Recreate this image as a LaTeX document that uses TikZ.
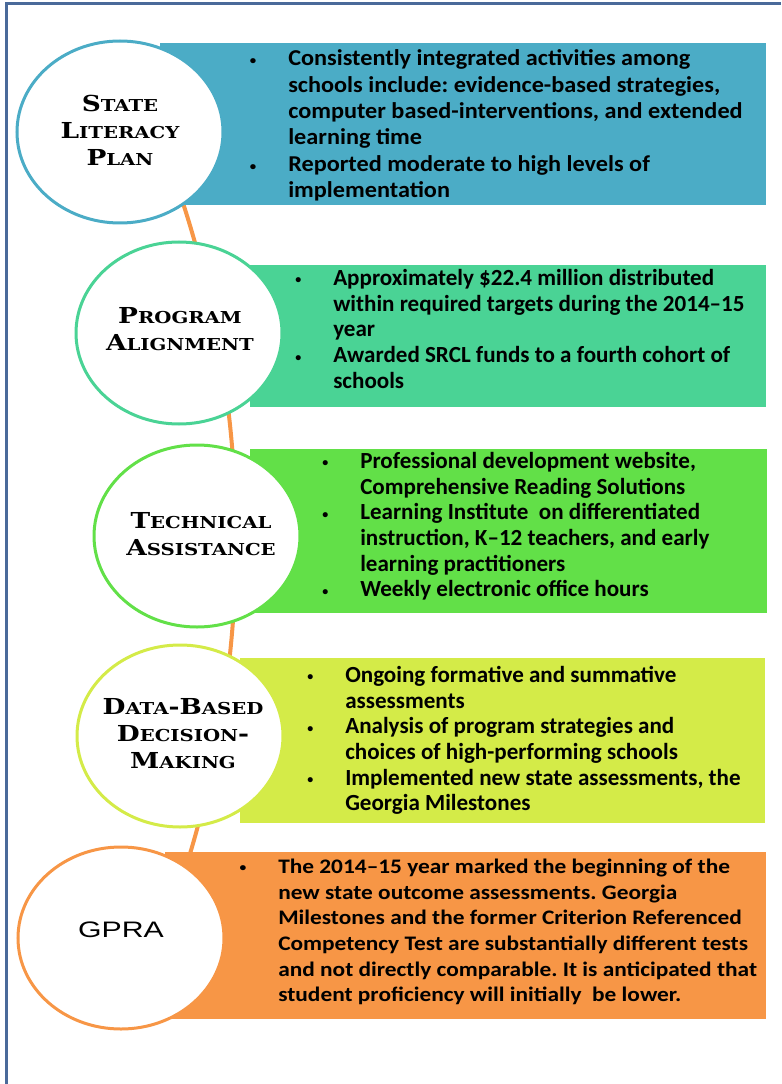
\documentclass[tikz,border=0pt]{standalone}
\usepackage{fontspec}
\usepackage{tikz}
\setmainfont{Carlito}
\newfontfamily\boxfontw{Carlito}[FakeStretch=1.07]
\newfontfamily\boxfontx{Carlito}[FakeStretch=1.13]
\newfontfamily\capfont{DejaVu Serif}[FakeStretch=1.2]
\newfontfamily\gprafont{Liberation Sans}[FakeStretch=1.35]
\usetikzlibrary{shapes.geometric,positioning,calc}
\frenchspacing

\definecolor{aquaC}{HTML}{4BACC6}
\definecolor{mintC}{HTML}{4AD395}
\definecolor{limeC}{HTML}{62E048}
\definecolor{yelC}{HTML}{D4EB48}
\definecolor{orgC}{HTML}{F79646}
\definecolor{frameC}{HTML}{4A6A9A}

\newcommand\bl{\llap{\raisebox{1pt}{\fontsize{9}{9}\selectfont\textbullet}\hspace{24pt}}}
\newcommand\capword[2]{{\fontsize{16.5}{20.25}\selectfont #1}{\fontsize{12.3}{20.25}\selectfont #2}}

\tikzset{
  stage/.style={ellipse, draw=#1, line width=2.25pt, fill=white,
    minimum width=154.5pt, minimum height=136.5pt, inner sep=0pt},
  title/.style={align=center, inner sep=0pt,
    font=\capfont\bfseries\fontsize{16.5}{20.25}\selectfont},
  items/.style={anchor=north west, align=left, inner sep=0pt,
    font=\bfseries\fontsize{17.3}{19.3}\selectfont},
  spine/.style={draw=orgC, line width=3pt},
  frame/.style={draw=frameC, line width=2.25pt},
}

\begin{document}
\begin{tikzpicture}[x=0.75pt, y=-0.75pt]
    \useasboundingbox (0,0) rectangle (781,1084);
    \draw[frame] (6,1084) -- (6,4) -- (781,4);

    % orange spine behind the stages
    \coordinate (sp0) at (182,200);
    \coordinate (sp1) at (185,870);
    \draw[spine] (sp0) .. controls (253,417) and (254,652) .. (sp1);

    % coloured panels
    \fill[aquaC] (160,43) rectangle (766,205);
    \fill[mintC] (250,265) rectangle (766,407);
    \fill[limeC] (250,449) rectangle (767,613);
    \fill[yelC] (240,658) rectangle (765,823);
    \fill[orgC] (165,852) rectangle (766,1019);

    % stages
    \node[stage=aquaC] (c1) at (120,132) {};
    \node[stage=mintC] (c2) at (179,333) {};
    \node[stage=limeC] (c3) at (197,536) {};
    \node[stage=yelC] (c4) at (180,736) {};
    \node[stage=orgC] (c5) at (121,938) {};

    \node[title] (n1) at (120,130) {\capword{S}{TATE}\\ \capword{L}{ITERACY}\\ \capword{P}{LAN}};
    \node[title] (n2) at (180,329) {\capword{P}{ROGRAM}\\ \capword{A}{LIGNMENT}};
    \node[title] (n3) at (201,534) {\capword{T}{ECHNICAL}\\ \capword{A}{SSISTANCE}};
    \node[title] (n4) at (183,734) {\capword{D}{ATA}-\capword{B}{ASED}\\ \capword{D}{ECISION}-\\ \capword{M}{AKING}};
    \node[inner sep=0pt, font=\gprafont\fontsize{16.8}{20}\selectfont] (n5) at (121,930) {GPRA};

    % bullet texts
    \node[items, font=\boxfontw\bfseries\fontsize{17}{19.8}\selectfont] (t1) at (288,47) {\strut\bl Consistently integrated activities among\\
      schools include: evidence-based strategies,\\
      computer based-interventions, and extended\\
      learning time\\
      \bl Reported moderate to high levels of\\
      implementation};
    \node[items] (t2) at (333,267) {\strut\bl Approximately \$22.4 million distributed\\
      within required targets during the 2014–15\\
      year\\
      \bl Awarded SRCL funds to a fourth cohort of\\
      schools};
    \node[items] (t3) at (360,450) {\strut\bl Professional development website,\\
      Comprehensive Reading Solutions\\
      \bl Learning Institute\ \ on differentiated\\
      instruction, K–12 teachers, and early\\
      learning practitioners\\
      \bl Weekly electronic office hours};
    \node[items] (t4) at (345,664) {\strut\bl Ongoing formative and summative\\
      assessments\\
      \bl Analysis of program strategies and\\
      choices of high-performing schools\\
      \bl Implemented new state assessments, the\\
      Georgia Milestones};
    \node[items, font=\boxfontx\bfseries\fontsize{15.5}{19.3}\selectfont] (t5) at (278,855) {\strut\bl The 2014–15 year marked the beginning of the\\
      new state outcome assessments. Georgia\\
      Milestones and the former Criterion Referenced\\
      Competency Test are substantially different tests\\
      and not directly comparable. It is anticipated that\\
      student proficiency will initially\ \ be lower.};
\end{tikzpicture}
\end{document}
